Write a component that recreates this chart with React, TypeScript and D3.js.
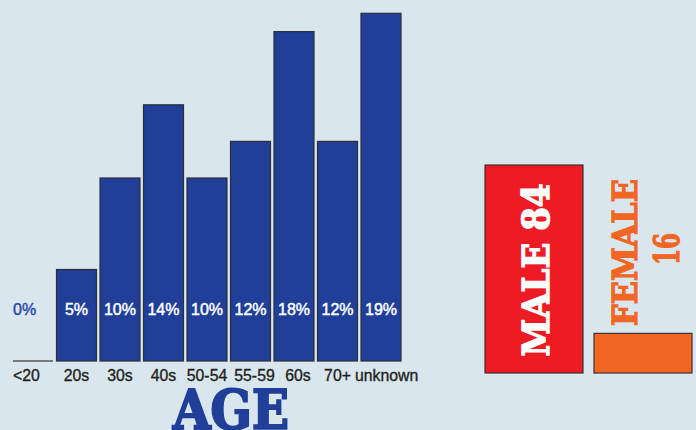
import React from "react";
import * as d3 from "d3";

const ageCategories = ["<20", "20s", "30s", "40s", "50-54", "55-59", "60s", "70+", "unknown"];
const agePercents = [0, 5, 10, 14, 10, 12, 18, 12, 19];
const ageTitle = "AGE";

const genders = ["MALE", "FEMALE"];
const genderValues = [84, 16];

const W = 696;
const H = 430;

const BG = "#dae6ee";
const BLUE = "#213f99";
const RED = "#ed1c24";
const ORANGE = "#f26522";
const DARK = "#231f20";

export default function App() {
  const x = d3
    .scaleBand<string>()
    .domain(ageCategories)
    .range([13, 401])
    .paddingInner(0.0805)
    .paddingOuter(0);
  const y = d3.scaleLinear().domain([0, 20]).range([361, -5]);

  const gx = d3
    .scaleBand<string>()
    .domain(genders)
    .range([485, 692])
    .paddingInner(0.101)
    .paddingOuter(0);
  const gy = d3.scaleLinear().domain([0, 84]).range([373, 165]);

  const sans = "'Liberation Sans', Arial, sans-serif";
  const slab = "'DejaVu Serif', serif";

  const maleX = gx("MALE")!;
  const femaleX = gx("FEMALE")!;
  const bw = gx.bandwidth();
  const last = ageCategories.length - 1;

  return (
    <svg
      width={W}
      height={H}
      style={{ position: "absolute", left: 0, top: 0, display: "block" }}
    >
      <rect x={0} y={0} width={W} height={H} fill={BG} />

      {/* Age bars */}
      {ageCategories.map((c, i) => {
        const v = agePercents[i];
        const x0 = x(c)!;
        const top = y(v);
        const h = y(0) - top;
        const cx = x0 + x.bandwidth() / 2;
        const edgeStart = i === 0;
        const edgeEnd = i === last;
        const nudge = c === "55-59" || c === "60s" ? 4 : 0;
        return (
          <g key={c}>
            {v > 0 ? (
              <rect
                x={x0}
                y={top}
                width={x.bandwidth()}
                height={h}
                fill={BLUE}
                stroke="#2a2f3a"
                strokeWidth={1.2}
              />
            ) : (
              <line
                x1={x0}
                x2={x0 + x.bandwidth()}
                y1={y(0)}
                y2={y(0)}
                stroke="#555"
                strokeWidth={1.5}
              />
            )}
            <text
              x={v > 0 ? cx : x0}
              y={315}
              textAnchor={v > 0 ? "middle" : "start"}
              fontFamily={sans}
              fontSize={16}
              fill={v > 0 ? "#ffffff" : "#2c4aa6"}
              stroke={v > 0 ? "#ffffff" : "#2c4aa6"}
              strokeWidth={0.45}
            >
              {v}%
            </text>
            <text
              x={edgeStart ? x0 : edgeEnd ? x0 - 6 : cx + nudge}
              y={381}
              textAnchor={edgeStart || edgeEnd ? "start" : "middle"}
              fontFamily={sans}
              fontSize={15.8}
              fill={DARK}
              stroke={DARK}
              strokeWidth={0.35}
            >
              {c}
            </text>
          </g>
        );
      })}

      <text
        x={231}
        y={429}
        textAnchor="middle"
        fontFamily={slab}
        fontWeight="bold"
        fontSize={54}
        fill={BLUE}
        stroke={BLUE}
        strokeWidth={2.2}
        strokeLinejoin="miter"
        textLength={116}
        lengthAdjust="spacingAndGlyphs"
      >
        {ageTitle}
      </text>

      {/* Gender bars */}
      <rect
        x={maleX}
        y={gy(genderValues[0])}
        width={bw}
        height={gy(0) - gy(genderValues[0])}
        fill={RED}
        stroke="#3a3030"
        strokeWidth={1.2}
      />
      <rect
        x={femaleX}
        y={gy(genderValues[1])}
        width={bw}
        height={gy(0) - gy(genderValues[1])}
        fill={ORANGE}
        stroke="#3a3030"
        strokeWidth={1.2}
      />

      <text
        transform={`translate(${maleX + 64},270) rotate(-90)`}
        textAnchor="middle"
        fontFamily={slab}
        fontWeight="bold"
        fontSize={38}
        fill="#ffffff"
        stroke="#ffffff"
        strokeWidth={1.4}
        textLength={173}
        lengthAdjust="spacingAndGlyphs"
      >
        {`${genders[0]} ${genderValues[0]}`}
      </text>
      <text
        transform={`translate(${femaleX + 43},252.5) rotate(-90)`}
        textAnchor="middle"
        fontFamily={slab}
        fontWeight="bold"
        fontSize={33}
        fill={ORANGE}
        stroke={ORANGE}
        strokeWidth={1.3}
        textLength={147}
        lengthAdjust="spacingAndGlyphs"
      >
        {genders[1]}
      </text>
      <text
        transform={`translate(${femaleX + 85},249) rotate(-90)`}
        textAnchor="middle"
        fontFamily={slab}
        fontWeight="bold"
        fontSize={35}
        fill={ORANGE}
        stroke={ORANGE}
        strokeWidth={1.3}
        textLength={32}
        lengthAdjust="spacingAndGlyphs"
      >
        {genderValues[1]}
      </text>
    </svg>
  );
}
